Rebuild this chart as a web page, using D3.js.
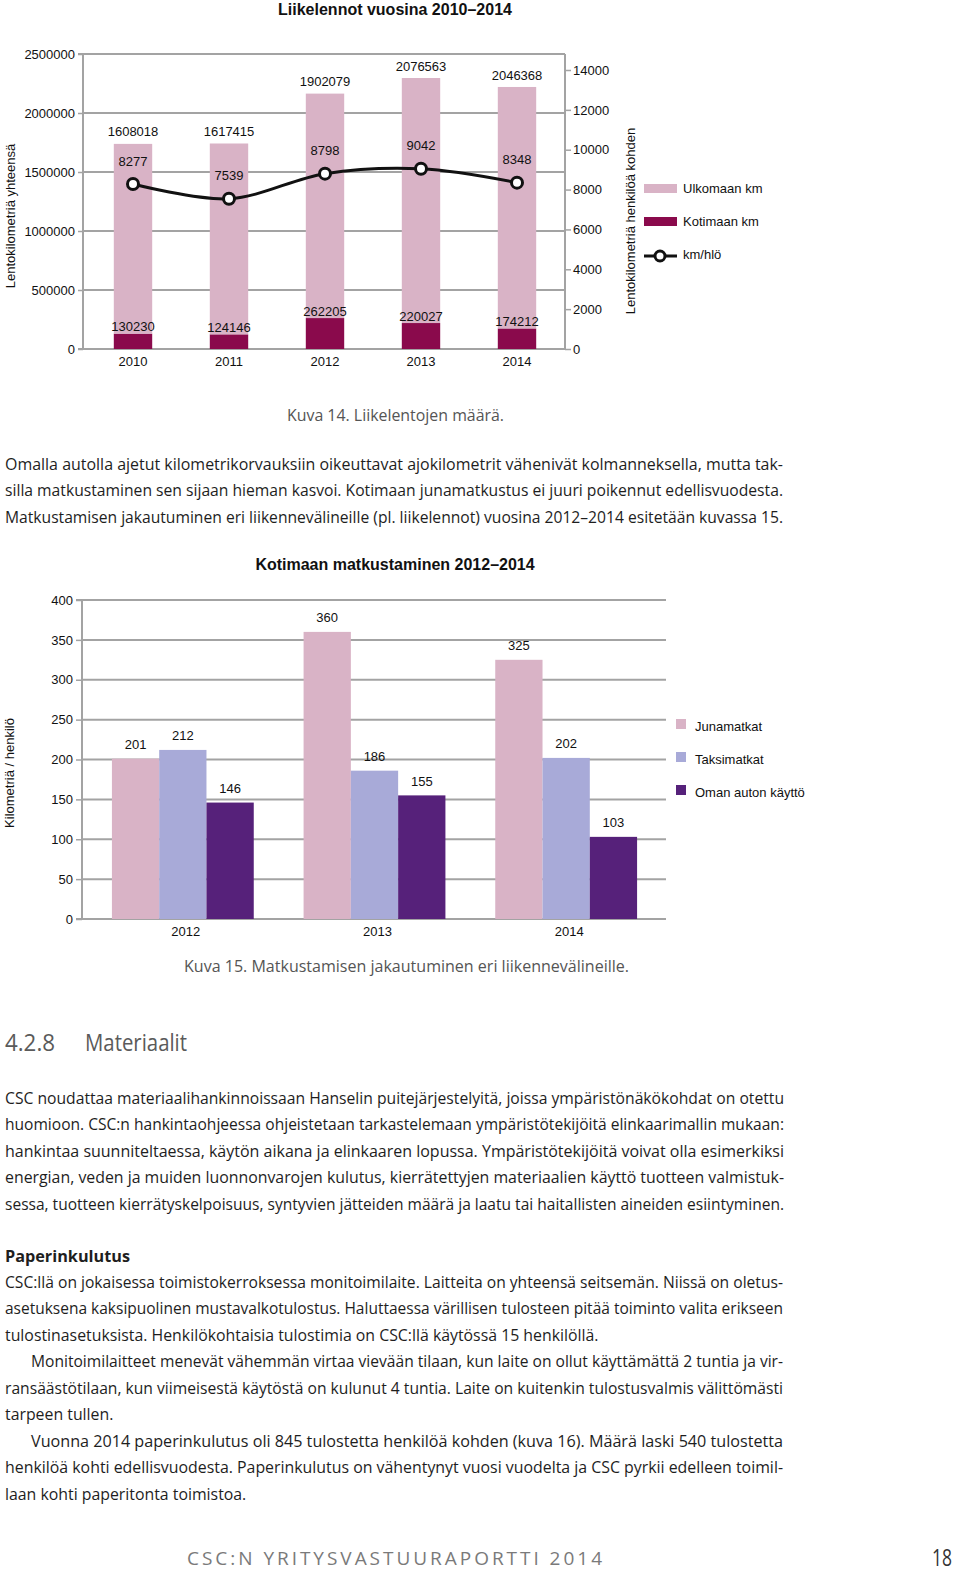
<!DOCTYPE html>
<html><head><meta charset="utf-8">
<script src="https://cdn.jsdelivr.net/npm/d3@7/dist/d3.min.js"></script>
<style>
html,body{margin:0;padding:0;background:#fff;}
svg{display:block;}
.ch{font-family:"Liberation Sans",Arial,sans-serif;fill:#111;}
.bt{font-family:"Open Sans","Noto Sans",sans-serif;}
</style></head>
<body>
<svg id="page" width="960" height="1576"></svg>
<script>
// ---------- Data: chart 1 ----------
const years1 = ["2010","2011","2012","2013","2014"];
const ulkomaanKm = [1608018,1617415,1902079,2076563,2046368];
const kotimaanKm = [130230,124146,262205,220027,174212];
const kmPerHlo = [8277,7539,8798,9042,8348];
const leftTicks1 = [0,500000,1000000,1500000,2000000,2500000];
const rightTicks1 = [0,2000,4000,6000,8000,10000,12000,14000];
const legend1 = ["Ulkomaan km","Kotimaan km","km/hlö"];

// ---------- Data: chart 2 ----------
const years2 = ["2012","2013","2014"];
const seriesNames2 = ["Junamatkat","Taksimatkat","Oman auton käyttö"];
const junamatkat = [201,360,325];
const taksimatkat = [212,186,202];
const omaAuto = [146,155,103];
const ticks2 = [0,50,100,150,200,250,300,350,400];

// ---------- Texts ----------
const caption14 = "Kuva 14. Liikelentojen määrä.";
const caption15 = "Kuva 15. Matkustamisen jakautuminen eri liikennevälineille.";
const para1 = [
 "Omalla autolla ajetut kilometrikorvauksiin oikeuttavat ajokilometrit vähenivät kolmanneksella, mutta tak-",
 "silla matkustaminen sen sijaan hieman kasvoi. Kotimaan junamatkustus ei juuri poikennut edellisvuodesta.",
 "Matkustamisen jakautuminen eri liikennevälineille (pl. liikelennot) vuosina 2012–2014 esitetään kuvassa 15."
];
const para2 = [
 "CSC noudattaa materiaalihankinnoissaan Hanselin puitejärjestelyitä, joissa ympäristönäkökohdat on otettu",
 "huomioon. CSC:n hankintaohjeessa ohjeistetaan tarkastelemaan ympäristötekijöitä elinkaarimallin mukaan:",
 "hankintaa suunniteltaessa, käytön aikana ja elinkaaren lopussa. Ympäristötekijöitä voivat olla esimerkiksi",
 "energian, veden ja muiden luonnonvarojen kulutus, kierrätettyjen materiaalien käyttö tuotteen valmistuk-",
 "sessa, tuotteen kierrätyskelpoisuus, syntyvien jätteiden määrä ja laatu tai haitallisten aineiden esiintyminen."
];
// [text, indent?, justified?]
const para3 = [
 ["CSC:llä on jokaisessa toimistokerroksessa monitoimilaite. Laitteita on yhteensä seitsemän. Niissä on oletus-",0,1],
 ["asetuksena kaksipuolinen mustavalkotulostus. Haluttaessa värillisen tulosteen pitää toiminto valita erikseen",0,1],
 ["tulostinasetuksista. Henkilökohtaisia tulostimia on CSC:llä käytössä 15 henkilöllä.",0,0],
 ["Monitoimilaitteet menevät vähemmän virtaa vievään tilaan, kun laite on ollut käyttämättä 2 tuntia ja vir-",1,1],
 ["ransäästötilaan, kun viimeisestä käytöstä on kulunut 4 tuntia. Laite on kuitenkin tulostusvalmis välittömästi",0,1],
 ["tarpeen tullen.",0,0],
 ["Vuonna 2014 paperinkulutus oli 845 tulostetta henkilöä kohden (kuva 16). Määrä laski 540 tulostetta",1,1],
 ["henkilöä kohti edellisvuodesta. Paperinkulutus on vähentynyt vuosi vuodelta ja CSC pyrkii edelleen toimil-",0,1],
 ["laan kohti paperitonta toimistoa.",0,0]
];

const svg = d3.select("#page");
const GRID = "#a3a3a3";

// ================= Chart 1 =================
(function(){
  const g = svg.append("g").attr("class","ch");
  const x0 = 83, x1 = 565, yb = 349, yt = 54;
  const x = d3.scaleBand().domain(years1).range([x0+2,x1]).paddingInner(0.6).paddingOuter(0.3);
  const yL = d3.scaleLinear().domain([0,2500000]).range([yb,yt]);
  const yR = d3.scaleLinear().domain([0,14000]).range([yb,70]);

  g.append("text").attr("x",395).attr("y",9).attr("dy","0.35em").attr("text-anchor","middle")
    .style("font-size","16px").style("font-weight","bold").text("Liikelennot vuosina 2010–2014");

  g.selectAll("line.grid").data(leftTicks1).join("line")
    .attr("x1",x0).attr("x2",x1).attr("y1",d=>yL(d)).attr("y2",d=>yL(d))
    .attr("stroke",GRID).attr("stroke-width",2);
  const ax = d3.axisLeft(yL).tickValues(leftTicks1).tickSize(5).tickPadding(3).tickFormat(d3.format("d"));
  const ga = g.append("g").attr("transform",`translate(${x0},0)`).call(ax);
  ga.select(".domain").attr("stroke",GRID).attr("stroke-width",2).attr("d",`M-5,${yt}H0V${yb}H-5`);
  ga.selectAll(".tick line").attr("stroke",GRID).attr("stroke-width",1.5);
  ga.selectAll(".tick text").style("font-size","13px").style("font-family","Liberation Sans, Arial").attr("fill","#111");
  const ar = d3.axisRight(yR).tickValues(rightTicks1).tickSize(6).tickPadding(2).tickFormat(d3.format("d"));
  const gr = g.append("g").attr("transform",`translate(${x1},0)`).call(ar);
  gr.select(".domain").attr("stroke",GRID).attr("stroke-width",2).attr("d",`M0,${yt}V${yb}`);
  gr.selectAll(".tick line").attr("stroke",GRID).attr("stroke-width",1.5);
  gr.selectAll(".tick text").style("font-size","13px").style("font-family","Liberation Sans, Arial").attr("fill","#111");

  g.selectAll("rect.kot").data(years1).join("rect")
    .attr("x",d=>x(d)).attr("width",x.bandwidth())
    .attr("y",(d,i)=>yL(kotimaanKm[i])).attr("height",(d,i)=>yb-yL(kotimaanKm[i]))
    .attr("fill","#8a0a4c");
  g.selectAll("rect.ulk").data(years1).join("rect")
    .attr("x",d=>x(d)).attr("width",x.bandwidth())
    .attr("y",(d,i)=>yL(kotimaanKm[i]+ulkomaanKm[i])).attr("height",(d,i)=>yL(kotimaanKm[i])-yL(kotimaanKm[i]+ulkomaanKm[i]))
    .attr("fill","#d9b3c6");

  const cx = d=>x(d)+x.bandwidth()/2;
  g.selectAll("text.ul").data(years1).join("text")
    .attr("x",cx).attr("y",(d,i)=>yL(kotimaanKm[i]+ulkomaanKm[i])-12).attr("dy","0.35em")
    .attr("text-anchor","middle").style("font-size","13px").text((d,i)=>ulkomaanKm[i]);
  g.selectAll("text.ko").data(years1).join("text")
    .attr("x",cx).attr("y",(d,i)=>yL(kotimaanKm[i])-7).attr("dy","0.35em")
    .attr("text-anchor","middle").style("font-size","13px").text((d,i)=>kotimaanKm[i]);

  const pts = years1.map((d,i)=>[cx(d), yR(kmPerHlo[i])]);
  g.append("path").attr("d",d3.line().curve(d3.curveCatmullRom.alpha(0.5))(pts))
    .attr("fill","none").attr("stroke","#111").attr("stroke-width",3);
  g.selectAll("circle.m").data(pts).join("circle")
    .attr("cx",d=>d[0]).attr("cy",d=>d[1]).attr("r",5.5)
    .attr("fill","#fff").attr("stroke","#111").attr("stroke-width",3);
  g.selectAll("text.km").data(years1).join("text")
    .attr("x",cx).attr("y",(d,i)=>yR(kmPerHlo[i])-23).attr("dy","0.35em")
    .attr("text-anchor","middle").style("font-size","13px").text((d,i)=>kmPerHlo[i]);

  g.selectAll("text.yr").data(years1).join("text")
    .attr("x",cx).attr("y",361).attr("dy","0.35em")
    .attr("text-anchor","middle").style("font-size","13px").text(d=>d);

  g.append("text").attr("transform","translate(10,216) rotate(-90)").attr("dy","0.35em")
    .attr("text-anchor","middle").style("font-size","13px").text("Lentokilometriä yhteensä");
  g.append("text").attr("transform","translate(630,221) rotate(-90)").attr("dy","0.35em")
    .attr("text-anchor","middle").style("font-size","13px").text("Lentokilometriä henkilöä kohden");

  const lg = g.append("g");
  lg.append("rect").attr("x",644).attr("y",184).attr("width",33).attr("height",9).attr("fill","#d9b3c6");
  lg.append("rect").attr("x",644).attr("y",217).attr("width",33).attr("height",9).attr("fill","#8a0a4c");
  lg.append("line").attr("x1",644).attr("x2",677).attr("y1",256).attr("y2",256).attr("stroke","#111").attr("stroke-width",3);
  lg.append("circle").attr("cx",660).attr("cy",256).attr("r",5).attr("fill","#fff").attr("stroke","#111").attr("stroke-width",3);
  [188,221,254].forEach((yy,i)=>{
    lg.append("text").attr("x",683).attr("y",yy).attr("dy","0.35em").style("font-size","13px").text(legend1[i]);
  });
})();

// ================= Chart 2 =================
(function(){
  const g = svg.append("g").attr("class","ch");
  const x0 = 82, x1 = 666, yb = 919, yt = 600;
  const x = d3.scaleBand().domain(years2).range([87,662]).paddingInner(0.26).paddingOuter(0.13);
  const xs = d3.scaleBand().domain([0,1,2]).range([0,x.bandwidth()]);
  const y = d3.scaleLinear().domain([0,400]).range([yb,yt]);
  const colors = ["#d9b3c6","#a8aad8","#56217a"];
  const series = [junamatkat,taksimatkat,omaAuto];

  g.append("text").attr("x",395).attr("y",564).attr("dy","0.35em").attr("text-anchor","middle")
    .style("font-size","16px").style("font-weight","bold").text("Kotimaan matkustaminen 2012–2014");

  g.selectAll("line.grid").data(ticks2).join("line")
    .attr("x1",x0).attr("x2",x1).attr("y1",d=>y(d)).attr("y2",d=>y(d))
    .attr("stroke",GRID).attr("stroke-width",2);
  const ax = d3.axisLeft(y).tickValues(ticks2).tickSize(6).tickPadding(3);
  const ga = g.append("g").attr("transform",`translate(${x0},0)`).call(ax);
  ga.select(".domain").attr("stroke",GRID).attr("stroke-width",2).attr("d",`M-6,${yt}H0V${yb}H-6`);
  ga.selectAll(".tick line").attr("stroke",GRID).attr("stroke-width",1.5);
  ga.selectAll(".tick text").style("font-size","13px").style("font-family","Liberation Sans, Arial").attr("fill","#111");

  series.forEach((vals,s)=>{
    g.selectAll("rect.s"+s).data(years2).join("rect")
      .attr("x",d=>x(d)+xs(s)).attr("width",xs.bandwidth())
      .attr("y",(d,i)=>y(vals[i])).attr("height",(d,i)=>yb-y(vals[i]))
      .attr("fill",colors[s]);
    g.selectAll("text.s"+s).data(years2).join("text")
      .attr("x",d=>x(d)+xs(s)+xs.bandwidth()/2).attr("y",(d,i)=>y(vals[i])-14).attr("dy","0.35em")
      .attr("text-anchor","middle").style("font-size","13px").text((d,i)=>vals[i]);
  });

  g.selectAll("text.yr").data(years2).join("text")
    .attr("x",d=>x(d)+x.bandwidth()/2+3).attr("y",931).attr("dy","0.35em")
    .attr("text-anchor","middle").style("font-size","13px").text(d=>d);

  g.append("text").attr("transform","translate(9,773) rotate(-90)").attr("dy","0.35em")
    .attr("text-anchor","middle").style("font-size","13px").text("Kilometriä / henkilö");

  [725,758,791].forEach((yy,i)=>{
    g.append("rect").attr("x",676).attr("y",yy-6).attr("width",10).attr("height",10).attr("fill",colors[i]);
    g.append("text").attr("x",695).attr("y",yy+1).attr("dy","0.35em").style("font-size","13px").text(seriesNames2[i]);
  });
})();

// ================= Body text =================
const tg = svg.append("g").attr("class","bt");
const COND = 0.99;
function line(txt, xs, yc, opts){
  opts = opts||{};
  const t = tg.append("text").attr("x",xs).attr("y",yc).attr("dy","0.35em")
    .style("font-size",(opts.size||16)+"px").attr("fill",opts.fill||"#1e1e1e")
    .style("font-weight",opts.weight||"normal").text(txt);
  if(opts.anchor) t.attr("text-anchor",opts.anchor);
  const w = t.node().getComputedTextLength();
  const target = opts.width ? opts.width : w*(opts.cond||COND);
  t.attr("textLength",target).attr("lengthAdjust",opts.adjust||"spacingAndGlyphs");
  return t;
}
const RIGHT = 783;
line(caption14, 395.5, 415, {fill:"#555", anchor:"middle", size:16, width:217});
para1.forEach((s,i)=> line(s, 5, 464+i*26.5, {width:RIGHT-5}));

line(caption15, 406.5, 966, {fill:"#555", anchor:"middle", size:16, width:445});

line("4.2.8", 5, 1043, {size:24, fill:"#5a5a5a", width:50});
line("Materiaalit", 85, 1043, {size:24, fill:"#5a5a5a", width:102});

para2.forEach((s,i)=> line(s, 5, 1098+i*26.5, {width:RIGHT+1-5}));

line("Paperinkulutus", 5, 1256, {weight:"bold", width:125});
para3.forEach((p,i)=>{
  const xs = p[1] ? 31 : 5;
  const yc = 1282 + i*26.5;
  if(p[2]) line(p[0], xs, yc, {width:RIGHT-xs});
  else line(p[0], xs, yc, {});
});

// footer
const ft = line("CSC:N YRITYSVASTUURAPORTTI 2014", 187, 1558, {size:19, fill:"#7a7a7a", width:418, adjust:"spacing"});
ft.style("letter-spacing","3px");
line("18", 932, 1558, {size:23, fill:"#333", width:20});
</script>
</body></html>
